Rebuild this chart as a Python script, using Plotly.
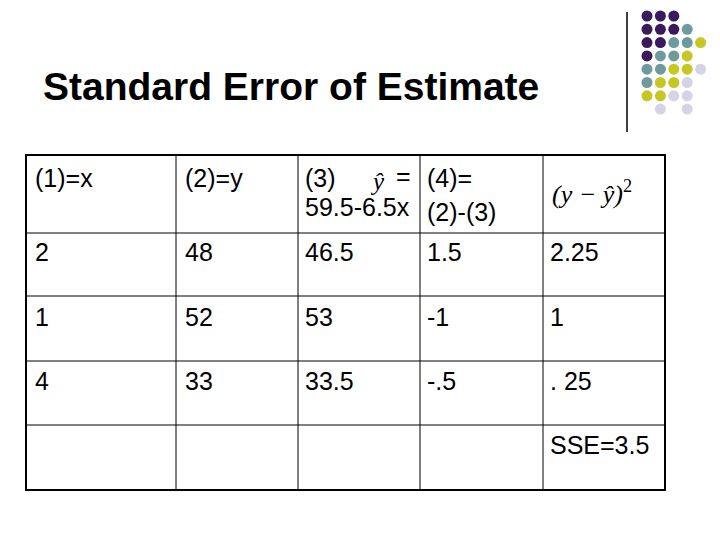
import plotly.graph_objects as go

x_vals = ["2", "1", "4"]
y_vals = ["48", "52", "33"]
yhat_vals = ["46.5", "53", "33.5"]
resid_vals = ["1.5", "-1", "-.5"]
sq_vals = ["2.25", "1", ". 25"]
sse_label = "SSE=3.5"

dot_rows = [
    "PPP", "PPPT", "PPTTY", "PTTY", "TTYYL", "TYYL", "YYLL", "_L_L",
]
dot_colors = {"P": "#3b1a5c", "T": "#6d9b9c", "Y": "#c7c724", "L": "#d4d4e6"}

fig = go.Figure()
dx, dy, cx = [], [], []
for r, row in enumerate(dot_rows):
    for c, ch in enumerate(row):
        if ch == "_":
            continue
        dx.append(647 + c * 13.4)
        dy.append(16 + r * 13.3)
        cx.append(dot_colors[ch])
fig.add_trace(go.Scatter(x=dx, y=dy, mode="markers",
                         marker=dict(size=11, color=cx, line=dict(width=0)),
                         hoverinfo="skip", showlegend=False))

shapes = [dict(type="line", x0=627, x1=627, y0=12, y1=132, line=dict(color="black", width=1.5))]
cols = [26, 176, 298, 420, 543, 665]
rows = [155, 233, 296, 361, 425, 490]
shapes.append(dict(type="rect", x0=cols[0], x1=cols[-1], y0=rows[0], y1=rows[-1],
                   line=dict(color="black", width=2)))
for c in cols[1:-1]:
    shapes.append(dict(type="line", x0=c, x1=c, y0=rows[0], y1=rows[-1], line=dict(color="black", width=1)))
for r in rows[1:-1]:
    shapes.append(dict(type="line", x0=cols[0], x1=cols[-1], y0=r, y1=r, line=dict(color="black", width=1)))

F = "Liberation Sans, Arial, sans-serif"
S = "Liberation Serif, Times New Roman, serif"
ann = []
def txt(x, y, t, size=25, font=F):
    ann.append(dict(x=x, y=y, text=t, showarrow=False, xanchor="left", yanchor="middle",
                    font=dict(family=font, size=size, color="black")))

txt(41, 86, "<b>Standard Error of Estimate</b>", size=39)
txt(33, 178, "(1)=x")
txt(183, 178, "(2)=y")
txt(303, 178, "(3)")
txt(368, 181, "<i>ŷ</i>", size=25, font=S)
txt(394, 176, "=")
txt(303, 207, "59.5-6.5x")
txt(425, 178, "(4)=")
txt(425, 212, "(2)-(3)")
txt(550, 192, "<i>(y − ŷ)</i><sup>2</sup>", size=26, font=S)

row_y = [252, 317, 381]
for i in range(3):
    txt(33, row_y[i], x_vals[i])
    txt(183, row_y[i], y_vals[i])
    txt(303, row_y[i], yhat_vals[i])
    txt(425, row_y[i], resid_vals[i])
    txt(548, row_y[i], sq_vals[i])
txt(548, 445, sse_label)

OFF = 8
fig.update_layout(width=720, height=540, margin=dict(l=0, r=0, t=0, b=0),
                  paper_bgcolor="white", plot_bgcolor="white",
                  xaxis=dict(range=[OFF, 720 + OFF], visible=False, fixedrange=True),
                  yaxis=dict(range=[540 + OFF, OFF], visible=False, fixedrange=True),
                  shapes=shapes, annotations=ann)
fig.write_html("out.html")
